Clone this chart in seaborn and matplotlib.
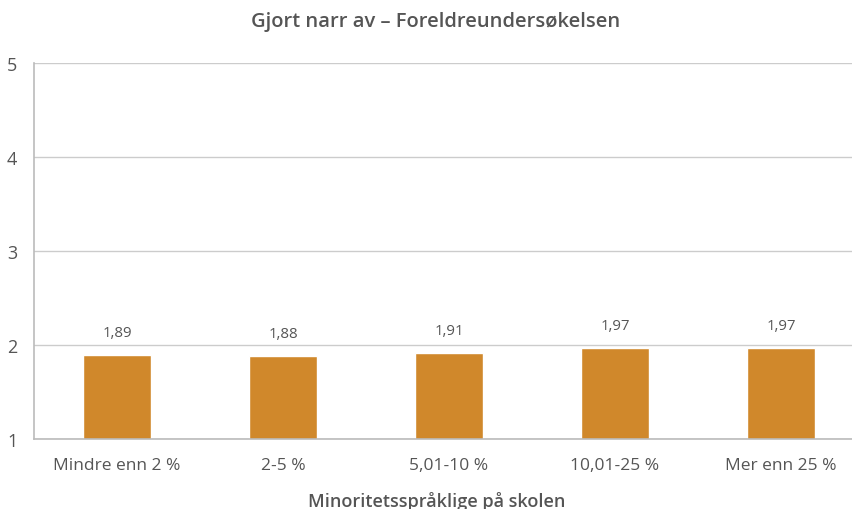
import matplotlib
matplotlib.use("Agg")
import matplotlib.pyplot as plt
from matplotlib.ticker import FixedLocator
import seaborn as sns
import pandas as pd

categories = ["Mindre enn 2 %", "2-5 %", "5,01-10 %", "10,01-25 %", "Mer enn 25 %"]
values = [1.89, 1.88, 1.91, 1.97, 1.97]
value_labels = ["1,89", "1,88", "1,91", "1,97", "1,97"]
y_ticks = [1, 2, 3, 4, 5]

title = "Gjort narr av – Foreldreundersøkelsen"
x_title = "Minoritetsspråklige på skolen"

sns.set_theme(style="white")
plt.rcParams["font.family"] = ["Open Sans", "DejaVu Sans"]

text_color = "#555555"
bar_color = "#D0882B"
grid_color = "#cccccc"
axis_color = "#bbbbbb"

df = pd.DataFrame({"category": categories, "value": values})

fig = plt.figure(figsize=(8.53, 5.10), dpi=100)
# plot area runs slightly past the right edge of the canvas
ax = fig.add_axes([34 / 853, 1 - 440 / 510, 830 / 853, 376 / 510])

sns.barplot(data=df, x="category", y="value", color=bar_color, width=0.41,
            saturation=1, ax=ax, bottom=0)

ax.set_ylim(1, 5)
ax.set_xlim(-0.5, len(categories) - 0.5)
ax.set_yticks(y_ticks)
ax.set_yticklabels([str(t) for t in y_ticks])
ax.yaxis.grid(True, color=grid_color, linewidth=1)
ax.set_axisbelow(True)

for i, (v, lab) in enumerate(zip(values, value_labels)):
    ax.annotate(lab, (i, v), xytext=(0, 11), textcoords="offset points",
                ha="center", va="bottom", fontsize=10.8, color=text_color)

for side in ["top", "right"]:
    ax.spines[side].set_visible(False)
for side in ["left", "bottom"]:
    ax.spines[side].set_color(axis_color)
    ax.spines[side].set_linewidth(1.2)

ax.tick_params(axis="y", length=0, pad=12, labelsize=13, labelcolor=text_color)
ax.tick_params(axis="x", which="major", length=0, pad=13, labelsize=12.5,
               labelcolor=text_color)
ax.xaxis.set_minor_locator(FixedLocator([0.5, 1.5, 2.5, 3.5]))
ax.tick_params(axis="x", which="minor", length=8, width=1, color=axis_color)

ax.set_xlabel(x_title, fontsize=13, fontweight="semibold", color=text_color,
              labelpad=13)
ax.xaxis.label.set_x((436.5 - 34) / 830)
ax.set_ylabel("")
fig.text(436 / 853, 1 - 22 / 510, title, ha="center", va="center",
         fontsize=14.5, fontweight="semibold", color=text_color)

fig.savefig("out.png", dpi=100)
